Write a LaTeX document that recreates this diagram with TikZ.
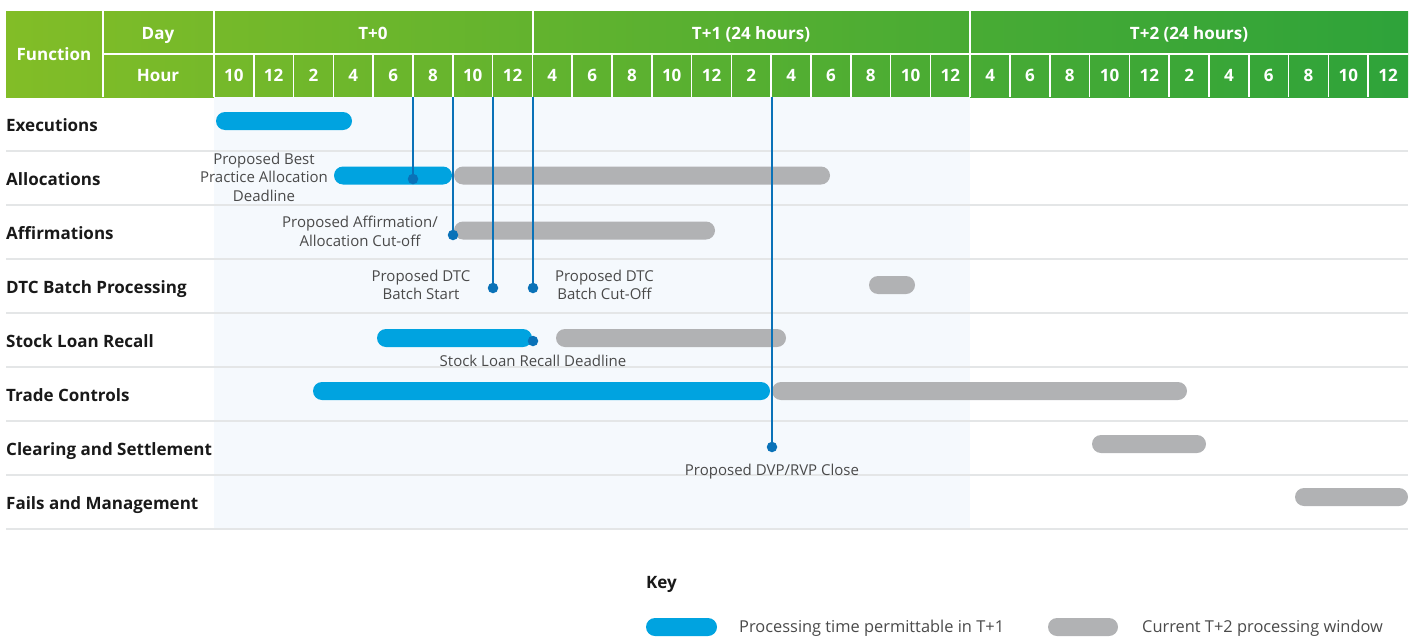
\documentclass[tikz,border=0pt]{standalone}
\usepackage{fontspec}
\setmainfont{Open Sans}
\usetikzlibrary{positioning,calc}
\definecolor{hdrleft}{HTML}{82BD27}
\definecolor{hdrright}{HTML}{2EA33A}
\definecolor{tblue}{HTML}{00A3E0}
\definecolor{tgray}{HTML}{B1B2B4}
\definecolor{mblue}{HTML}{0A72B8}
\definecolor{rowrule}{HTML}{E4E6E7}
\definecolor{tshade}{HTML}{F5F9FD}
\definecolor{notetxt}{HTML}{4A4A4A}

\tikzset{
  hdr/.style={text=white, inner sep=0pt, text height=12.1pt, text depth=0pt,
    font=\bfseries\fontsize{17}{19}\selectfont},
  fn/.style={anchor=west, inner sep=0pt, text=black!90, text height=12.1pt, text depth=0pt,
    font=\bfseries\fontsize{17}{19}\selectfont},
  note/.style={align=center, inner sep=0pt, text=notetxt, font=\fontsize{15}{18.5}\selectfont},
  oneline/.style={text height=10.7pt, text depth=0pt},
  keytext/.style={anchor=west, inner sep=0pt, text=notetxt, text height=11.7pt, text depth=0pt,
    font=\fontsize{16.4}{19}\selectfont},
  bluebar/.style={fill=tblue, rounded corners=9pt},
  graybar/.style={fill=tgray, rounded corners=9pt},
  mdot/.style={circle, fill=mblue, inner sep=0pt, minimum size=10.5pt},
  marker/.style={draw=mblue, line width=2.6pt},
  cellrule/.style={draw=white, line width=1.5pt},
}

\begin{document}
\begin{tikzpicture}[x=1pt,y=-1pt]
  \useasboundingbox (0,0) rectangle (1413,637);
  % HEADER: green band, Day row and Hour row
  \shade[left color=hdrleft, right color=hdrright] (6,11) rectangle (1408,97);
  \draw[cellrule] (103,11) -- (103,97) (214,11) -- (214,97) (533,11) -- (533,54)
    (970,11) -- (970,54) (103,54) -- (1408,54);
  \foreach \i in {1,...,29}
    \draw[cellrule] ({214+39.8*\i},54) -- ({214+39.8*\i},97);
  \node[hdr] (func) at (54,54) {Function};
  \node[hdr] (day) at (158,33) {Day};
  \node[hdr] (hour) at (158,75.5) {Hour};
  \node[hdr] (t0) at (373,33) {T+0};
  \node[hdr] (t1) at (751,33) {T+1 (24 hours)};
  \node[hdr] (t2) at (1189,33) {T+2 (24 hours)};
  \foreach \h [count=\i] in {10,12,2,4,6,8,10,12,4,6,8,10,12,2,4,6,8,10,12,4,6,8,10,12,2,4,6,8,10,12}
    \node[hdr] (h\i) at ({214+39.8*(\i-0.5)},75.5) {\h};

  % BODY: T+0 / T+1 shaded span and row rules
  \fill[tshade] (214,97) rectangle (970,528);
  \foreach \k in {0,...,7}
    \draw[rowrule, line width=1.2pt] (6,{151+54*\k}) -- (1408,{151+54*\k});
  \foreach \t [count=\i] in {Executions,Allocations,Affirmations,DTC Batch Processing,
      Stock Loan Recall,Trade Controls,Clearing and Settlement,Fails and Management}
    \node[fn] (f\i) at (6,{125.3+54*(\i-1)}) {\t};

  % BARS: blue = permittable in T+1, grey = current T+2 window
  \fill[bluebar] (216,112) rectangle (352,130);
  \fill[bluebar] (334,166.5) rectangle (452,184.5);
  \fill[graybar] (454,166.5) rectangle (830,184.5);
  \fill[graybar] (454,221.5) rectangle (715,239.5);
  \fill[graybar] (869,276) rectangle (915,294);
  \fill[bluebar] (377,329) rectangle (532,347);
  \fill[graybar] (556,329) rectangle (786,347);
  \fill[bluebar] (313,382) rectangle (770,400);
  \fill[graybar] (772,382) rectangle (1187,400);
  \fill[graybar] (1092,435) rectangle (1206,453);
  \fill[graybar] (1295,488) rectangle (1408,506);

  % MARKERS: proposed deadlines dropped from the hour grid
  \coordinate (tAlloc) at (413,97);
  \coordinate (tAffirm) at (453,97);
  \coordinate (tStart) at (493,97);
  \coordinate (tCut) at (533,97);
  \coordinate (tDvp) at (772,97);
  \node[mdot] (dAlloc) at (413,179) {};
  \node[mdot] (dAffirm) at (453,235) {};
  \node[mdot] (dStart) at (493,288) {};
  \node[mdot] (dCut) at (533,288) {};
  \node[mdot] (dRecall) at (533,341) {};
  \node[mdot] (dDvp) at (772,447) {};
  \draw[marker] (tAlloc) -- (dAlloc.center);
  \draw[marker] (tAffirm) -- (dAffirm.center);
  \draw[marker] (tStart) -- (dStart.center);
  \draw[marker] (tCut) -- (dCut.center);
  \draw[marker] (tDvp) -- (dDvp.center);

  % LABELS for the markers
  \node[note] (lAlloc) at (264,177) {Proposed Best\\Practice Allocation\\Deadline};
  \node[note] (lAffirm) at (360,231.5) {Proposed Affirmation/\\Allocation Cut-off};
  \node[note] (lStart) at (421,285) {Proposed DTC\\Batch Start};
  \node[note] (lCut) at (604.5,285) {Proposed DTC\\Batch Cut-Off};
  \node[note, oneline, below=20pt of dRecall.center, anchor=center] (lRecall) {Stock Loan Recall Deadline};
  \node[note, oneline, below=23.3pt of dDvp.center, anchor=center] (lDvp) {Proposed DVP/RVP Close};

  % KEY
  \node[fn] (key) at (646,582) {Key};
  \fill[bluebar] (646,618) rectangle (717,636);
  \node[keytext] (kBlue) at (739,627) {Processing time permittable in T+1};
  \fill[graybar] (1048,618) rectangle (1118,636);
  \node[keytext] (kGray) at (1142,627) {Current T+2 processing window};
\end{tikzpicture}
\end{document}
